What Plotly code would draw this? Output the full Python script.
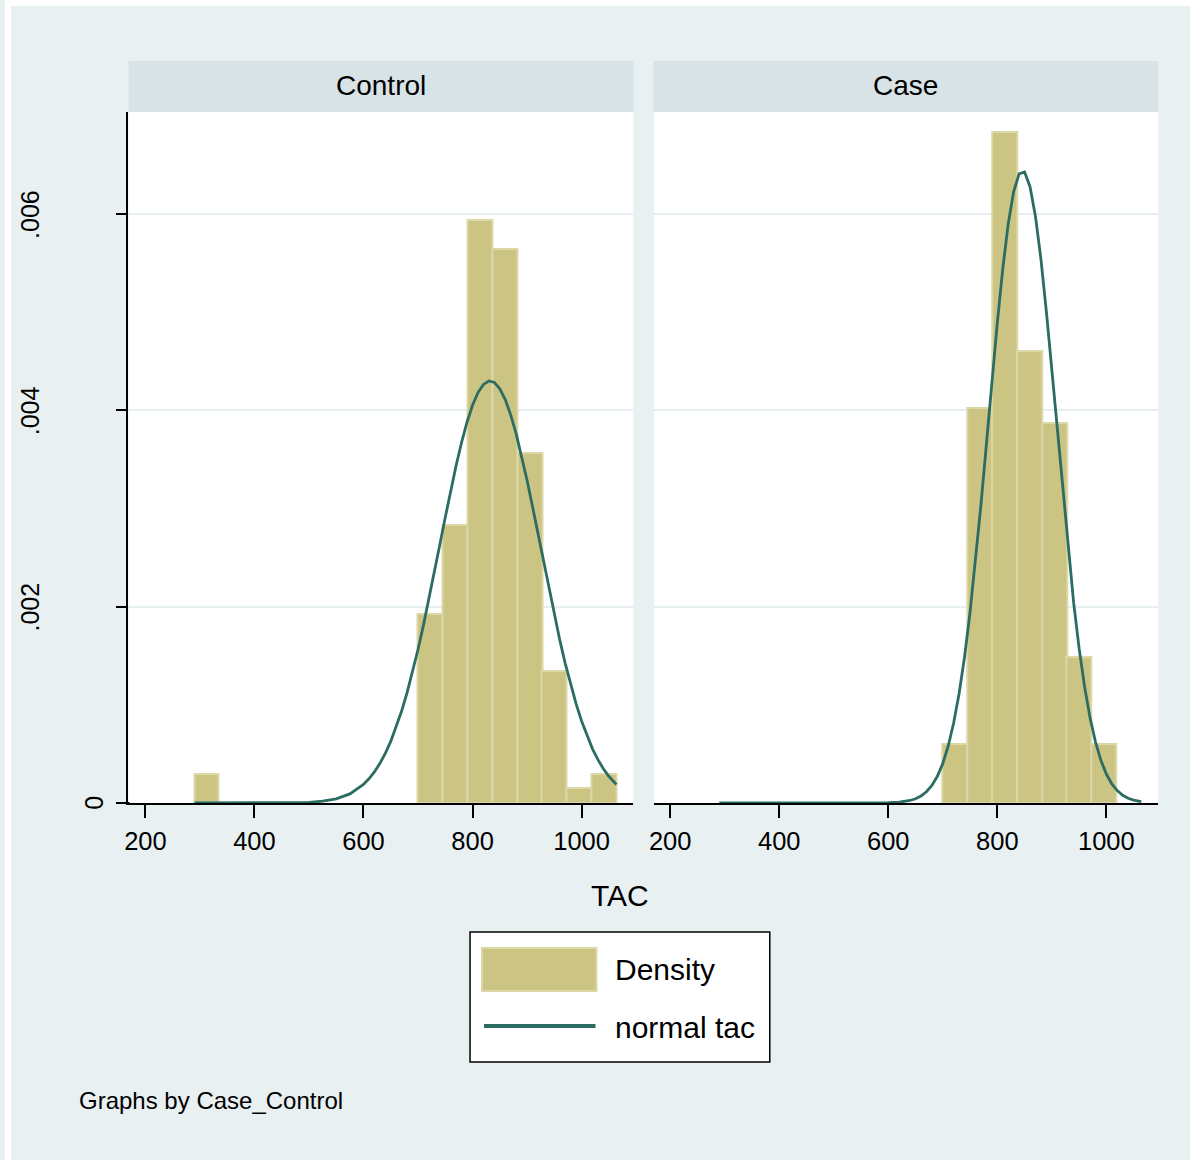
import plotly.graph_objects as go

# ---------------- data ----------------
panels = ["Control", "Case"]

control_bin_centers = [312, 722, 768, 813, 859, 905, 950, 996, 1041]
control_density = [0.0003, 0.00193, 0.00283, 0.00594, 0.00564, 0.00357, 0.00134, 0.00015, 0.0003]

case_bin_centers = [722, 768, 813, 859, 905, 950, 996]
case_density = [0.0006, 0.00402, 0.00684, 0.0046, 0.00387, 0.00149, 0.0006]

control_curve_x = [290, 400, 450, 500, 525, 550, 575, 600, 610, 620, 630, 640, 650, 660, 670, 680,
                   690, 700, 710, 720, 730, 740, 750, 760, 770, 780, 790, 800, 810, 820, 830,
                   840, 850, 860, 870, 880, 890, 900, 910, 920, 930, 940, 950, 960, 970, 980,
                   990, 1000, 1010, 1020, 1030, 1040, 1050, 1064]
control_curve_y = [0.0, 0.0, 0.0000009, 0.0000071, 0.0000181, 0.0000425, 0.0000929, 0.000189,
                   0.000246, 0.000316, 0.000402, 0.000506, 0.000628, 0.000772, 0.000937, 0.001124,
                   0.001334, 0.001564, 0.001812, 0.002076, 0.00235, 0.00263, 0.00291, 0.003183,
                   0.00344, 0.003675, 0.003881, 0.004052, 0.004181, 0.004264, 0.004299,
                   0.004284, 0.00422, 0.004109, 0.003954, 0.003762, 0.003537, 0.003288, 0.00302,
                   0.002743, 0.002462, 0.002185, 0.001916, 0.001661, 0.001423, 0.001205,
                   0.001009, 0.000835, 0.000683, 0.000552, 0.000442, 0.000349, 0.000272, 0.000189]

case_curve_x = [290, 500, 600, 620, 640, 650, 660, 670, 680, 690, 700, 710, 720, 730, 740, 750,
                760, 770, 780, 790, 800, 810, 820, 830, 840, 850, 860, 870, 880, 890, 900,
                910, 920, 930, 940, 950, 960, 970, 980, 990, 1000, 1010, 1020, 1030, 1040,
                1050, 1060, 1064]
case_curve_y = [0.0, 0.0, 0.0000024, 0.0000084, 0.0000258, 0.0000435, 0.0000716, 0.0001145,
                0.000179, 0.000272, 0.000403, 0.000581, 0.000817, 0.001119, 0.001493, 0.001942,
                0.002461, 0.003038, 0.003655, 0.004283, 0.004891, 0.005441, 0.005898, 0.006229,
                0.00641, 0.006427, 0.006278, 0.005975, 0.005541, 0.005006, 0.004407,
                0.00378, 0.003159, 0.002572, 0.002041, 0.001577, 0.001188, 0.000872, 0.000623,
                0.000434, 0.000295, 0.000195, 0.000126, 0.0000788, 0.0000482,
                0.0000287, 0.0000167, 0.0000133]

x_ticks = [200, 400, 600, 800, 1000]
y_ticks = [0, 0.002, 0.004, 0.006]
y_tick_labels = ["0", ".002", ".004", ".006"]

legend_labels = ["Density", "normal tac"]
x_title = "TAC"
note_text = "Graphs by Case_Control"

# ---------------- style ----------------
W, H = 1190, 1160
BG = "#e8f0f2"
STRIP = "#d8e3e8"
GRID = "#e6eef0"
BAR = "#ccc483"
BAR_LINE = "#dcd7a6"
CURVE = "#2b6c63"
FONT = "Liberation Sans Narrow, Arial Narrow, Liberation Sans, Arial, sans-serif"


def px(x):
    return x / W


def py(y):
    return 1 - y / H


plot_top, plot_bottom = 112, 803
ctrl_l, ctrl_r = 124, 631
case_l, case_r = 652, 1158
y_range = [0, 0.007039]
ctrl_range = [168.95, 1094.98]
case_range = [170.78, 1094.98]

fig = go.Figure()

fig.add_trace(go.Bar(x=control_bin_centers, y=control_density, width=45.6,
                     marker=dict(color=BAR, line=dict(color=BAR_LINE, width=2)),
                     xaxis="x", yaxis="y", showlegend=False, hoverinfo="skip"))
fig.add_trace(go.Scatter(x=control_curve_x, y=control_curve_y, mode="lines",
                         line=dict(color=CURVE, width=2.8),
                         xaxis="x", yaxis="y", showlegend=False))
fig.add_trace(go.Bar(x=case_bin_centers, y=case_density, width=45.6,
                     marker=dict(color=BAR, line=dict(color=BAR_LINE, width=2)),
                     xaxis="x2", yaxis="y2", showlegend=False, hoverinfo="skip"))
fig.add_trace(go.Scatter(x=case_curve_x, y=case_curve_y, mode="lines",
                         line=dict(color=CURVE, width=2.8),
                         xaxis="x2", yaxis="y2", showlegend=False))

xaxis_common = dict(
    tickvals=x_ticks, ticks="outside", ticklen=13, tickwidth=1.5, tickcolor="black",
    showline=True, linecolor="black", linewidth=2, showgrid=False, zeroline=False,
    tickfont=dict(family=FONT, size=25.5, color="black"), ticklabelstandoff=1,
    fixedrange=True,
)
yaxis_common = dict(
    range=y_range, tickvals=y_ticks, showticklabels=False, showgrid=True,
    gridcolor=GRID, gridwidth=2, zeroline=False,
    domain=[py(plot_bottom), py(plot_top)], fixedrange=True,
)

fig.update_layout(
    width=W, height=H, autosize=False,
    margin=dict(l=0, r=0, t=0, b=0),
    paper_bgcolor=BG, plot_bgcolor="white",
    bargap=0,
    xaxis=dict(domain=[px(ctrl_l), px(ctrl_r)], range=ctrl_range, anchor="y", **xaxis_common),
    xaxis2=dict(domain=[px(case_l), px(case_r)], range=case_range, anchor="y2", **xaxis_common),
    yaxis=dict(anchor="x", showline=True, linecolor="black", linewidth=2,
               ticks="outside", ticklen=10, tickwidth=2, tickcolor="black", **yaxis_common),
    yaxis2=dict(anchor="x2", showline=False, ticks="", **yaxis_common),
)

shapes = []
# white outer border at top/left
shapes.append(dict(type="rect", xref="paper", yref="paper", x0=0, x1=1, y0=py(6), y1=1,
                   fillcolor="white", line=dict(width=0), layer="above"))
shapes.append(dict(type="rect", xref="paper", yref="paper", x0=0, x1=px(6), y0=0, y1=1,
                   fillcolor="white", line=dict(width=0), layer="above"))
# strips
for (l, r) in [(124, 631), (651, 1158)]:
    shapes.append(dict(type="rect", xref="paper", yref="paper", x0=px(l), x1=px(r),
                       y0=py(112), y1=py(61), fillcolor=STRIP, line=dict(width=0), layer="above"))
# x-axis line extension left of y axis
shapes.append(dict(type="line", xref="paper", yref="paper", x0=px(114), x1=px(125),
                   y0=py(803), y1=py(803), line=dict(color="black", width=2), layer="above"))
# legend box
shapes.append(dict(type="rect", xref="paper", yref="paper", x0=px(467), x1=px(768),
                   y0=py(1062), y1=py(932), fillcolor="white", line=dict(color="black", width=1.5),
                   layer="above"))
shapes.append(dict(type="rect", xref="paper", yref="paper", x0=px(479), x1=px(594),
                   y0=py(991), y1=py(948), fillcolor=BAR, line=dict(color=BAR_LINE, width=2),
                   layer="above"))
shapes.append(dict(type="line", xref="paper", yref="paper", x0=px(481), x1=px(593),
                   y0=py(1026), y1=py(1026), line=dict(color=CURVE, width=4), layer="above"))
fig.update_layout(shapes=shapes)

ann = []
for name, cx in zip(panels, [(124 + 631) / 2, (651 + 1158) / 2]):
    ann.append(dict(text=name, x=px(cx), y=py(86), xref="paper", yref="paper",
                    showarrow=False, xanchor="center", yanchor="middle",
                    font=dict(family=FONT, size=28, color="black")))
for v, lab in zip(y_ticks, y_tick_labels):
    cx = 89 if lab == "0" else 25
    ann.append(dict(text=lab, x=px(cx), y=v, xref="paper", yref="y", textangle=-90,
                    showarrow=False, xanchor="center", yanchor="middle",
                    font=dict(family=FONT, size=25, color="black")))
ann.append(dict(text=x_title, x=px(618), y=py(895), xref="paper", yref="paper",
                showarrow=False, xanchor="center", yanchor="middle",
                font=dict(family=FONT, size=30, color="black")))
ann.append(dict(text=legend_labels[0], x=px(611), y=py(970), xref="paper", yref="paper",
                showarrow=False, xanchor="left", yanchor="middle",
                font=dict(family=FONT, size=30, color="black")))
ann.append(dict(text=legend_labels[1], x=px(611), y=py(1027), xref="paper", yref="paper",
                showarrow=False, xanchor="left", yanchor="middle",
                font=dict(family=FONT, size=30, color="black")))
ann.append(dict(text=note_text, x=px(72), y=py(1100), xref="paper", yref="paper",
                showarrow=False, xanchor="left", yanchor="middle",
                font=dict(family=FONT, size=24, color="black")))
fig.update_layout(annotations=ann)

fig.write_html("out.html", config={"displayModeBar": False},
               post_script="document.body.style.margin='0';document.body.style.overflow='hidden';")
